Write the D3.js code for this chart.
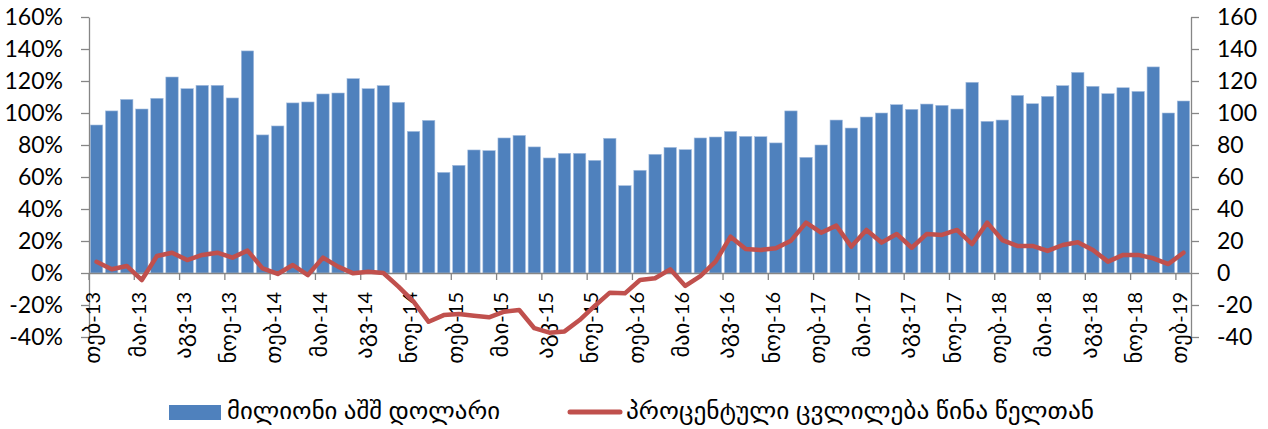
<!DOCTYPE html>
<html>
<head>
<meta charset="utf-8">
<script src="https://cdn.jsdelivr.net/npm/d3@7"></script>
<style>
  html, body { margin: 0; padding: 0; background: #fff; }
  svg { display: block; }
  text { font-family: Lato, "DejaVu Sans", sans-serif; fill: #000; }
</style>
</head>
<body>
<svg id="chart" width="1268" height="429"></svg>
<script>
const categories = [
  "თებ-13","მარ-13","აპრ-13","მაი-13","ივნ-13","ივლ-13","აგვ-13","სექ-13","ოქტ-13","ნოე-13","დეკ-13",
  "იან-14","თებ-14","მარ-14","აპრ-14","მაი-14","ივნ-14","ივლ-14","აგვ-14","სექ-14","ოქტ-14","ნოე-14","დეკ-14",
  "იან-15","თებ-15","მარ-15","აპრ-15","მაი-15","ივნ-15","ივლ-15","აგვ-15","სექ-15","ოქტ-15","ნოე-15","დეკ-15",
  "იან-16","თებ-16","მარ-16","აპრ-16","მაი-16","ივნ-16","ივლ-16","აგვ-16","სექ-16","ოქტ-16","ნოე-16","დეკ-16",
  "იან-17","თებ-17","მარ-17","აპრ-17","მაი-17","ივნ-17","ივლ-17","აგვ-17","სექ-17","ოქტ-17","ნოე-17","დეკ-17",
  "იან-18","თებ-18","მარ-18","აპრ-18","მაი-18","ივნ-18","ივლ-18","აგვ-18","სექ-18","ოქტ-18","ნოე-18","დეკ-18",
  "იან-19","თებ-19"
];
const usdMillions = [
  92.5,101.3,108.5,102.5,109.2,122.5,115.2,117.3,117.3,109.4,
  138.8,86.3,91.9,106.3,106.9,111.9,112.5,121.5,115.2,117.1,
  106.7,88.5,95.4,62.9,67.3,76.9,76.5,84.4,86.0,78.8,
  71.9,74.8,74.8,70.4,84.2,54.6,64.2,74.2,78.5,77.1,
  84.4,85.0,88.5,85.4,85.2,81.3,101.3,72.3,80.0,95.6,
  90.6,97.5,100.0,105.2,102.3,105.6,104.8,102.5,119.2,94.8,
  95.6,111.0,105.8,110.4,117.1,125.4,116.7,112.1,115.8,113.5,
  128.8,100.0,107.5
];
const pctChange = [
  7,2.3,4.4,-4.4,10.6,12.7,8.1,11.3,12.7,9.6,
  14,2.9,-0.6,5,-1.3,9.6,4,-0.2,0.8,0,
  -8.5,-17.9,-30.5,-26.3,-25.6,-26.7,-27.7,-24.2,-23.1,-34.5,
  -37.3,-36.5,-29.4,-20.6,-12.3,-12.7,-4.4,-3.3,2.3,-8.1,
  -1.9,7.1,22.7,15,14.4,15.4,20.2,31.5,25.2,29.6,
  16.5,26.9,19,24.4,15.8,24.4,23.8,26.9,18.1,31.5,
  20.6,16.9,16.9,13.8,17.5,19.2,14.4,7.1,11.3,11.3,
  9.2,5.6,12.7
];
const leftTicks = [-40,-20,0,20,40,60,80,100,120,140,160];
const rightTicks = [-40,-20,0,20,40,60,80,100,120,140,160];
const seriesNames = ["მილიონი აშშ დოლარი", "პროცენტული ცვლილება წინა წელთან"];
const labelEvery = 3;

const barColor = "#4F81BD", lineColor = "#C0504D", axisColor = "#868686";
const L = 89, R = 1191, T = 17, B = 337;

const svg = d3.select("#chart");
const x = d3.scaleBand().domain(categories).range([L, R]).paddingInner(0.18).paddingOuter(0.09);
const yL = d3.scaleLinear().domain([-40, 160]).range([B, T]);
const yR = d3.scaleLinear().domain([-40, 160]).range([B, T]);
const step = x.step();

// bars
svg.append("g").selectAll("rect").data(usdMillions).join("rect")
  .attr("x", (d, i) => x(categories[i]))
  .attr("width", x.bandwidth())
  .attr("y", d => yR(Math.max(0, d)))
  .attr("height", d => Math.abs(yR(d) - yR(0)))
  .attr("fill", barColor)
  .attr("stroke", "#a7bfdf").attr("stroke-width", 0.6);

// left axis
const gL = svg.append("g").attr("transform", `translate(${L},0)`)
  .call(d3.axisLeft(yL).tickValues(leftTicks).tickSize(8).tickSizeOuter(0).tickPadding(18)
    .tickFormat(d => d + "%"));
// right axis
const gR = svg.append("g").attr("transform", `translate(${R},0)`)
  .call(d3.axisRight(yR).tickValues(rightTicks).tickSize(8).tickSizeOuter(0).tickPadding(18)
    .tickFormat(d => d));
[gL, gR].forEach(g => {
  g.selectAll("path,line").attr("stroke", axisColor).attr("stroke-width", 1.3);
  g.selectAll("text").style("font-size", "23px").attr("font-family", "Lato, 'DejaVu Sans', sans-serif");
});

// x axis (category axis at zero)
const shown = categories.filter((c, i) => i % labelEvery === 0);
const gX = svg.append("g").attr("transform", `translate(0,${yL(0)})`)
  .call(d3.axisBottom(x).tickValues(shown).tickSize(0).tickSizeOuter(0).tickPadding(0));
gX.select("path.domain").attr("stroke", axisColor).attr("stroke-width", 1.3);
gX.selectAll(".tick text")
  .attr("transform", "rotate(-90)")
  .attr("text-anchor", "end")
  .attr("x", -19).attr("y", 0).attr("dy", "0.37em")
  .each(function(d) {
    const t = d3.select(this);
    const parts = d.split("-");
    t.text(null);
    t.append("tspan").style("font-size", "22.5px").text(parts[0]);
    t.append("tspan").style("font-size", "20px").text("-" + parts[1]);
  });
// tick marks at category boundaries
gX.selectAll("line.bnd").data(shown).join("line").attr("class", "bnd")
  .attr("x1", c => x(c) - x.paddingInner() * step / 2)
  .attr("x2", c => x(c) - x.paddingInner() * step / 2)
  .attr("y1", 0).attr("y2", 7)
  .attr("stroke", axisColor).attr("stroke-width", 1.3);

// line
const line = d3.line()
  .x((d, i) => x(categories[i]) + x.bandwidth() / 2)
  .y(d => yL(d));
svg.append("path").datum(pctChange)
  .attr("d", line)
  .attr("fill", "none").attr("stroke", lineColor).attr("stroke-width", 4.5)
  .attr("stroke-linejoin", "round").attr("stroke-linecap", "round");

// legend
const lg = svg.append("g");
lg.append("rect").attr("x", 169).attr("y", 405).attr("width", 52).attr("height", 15).attr("fill", barColor);
lg.append("text").attr("x", 227).attr("y", 419).style("font-size", "23px")
  .attr("textLength", 273).attr("lengthAdjust", "spacingAndGlyphs").text(seriesNames[0]);
lg.append("line").attr("x1", 570).attr("x2", 620).attr("y1", 412).attr("y2", 412)
  .attr("stroke", lineColor).attr("stroke-width", 5).attr("stroke-linecap", "round");
lg.append("text").attr("x", 626).attr("y", 419).style("font-size", "23px")
  .attr("textLength", 468).attr("lengthAdjust", "spacingAndGlyphs").text(seriesNames[1]);
</script>
</body>
</html>
